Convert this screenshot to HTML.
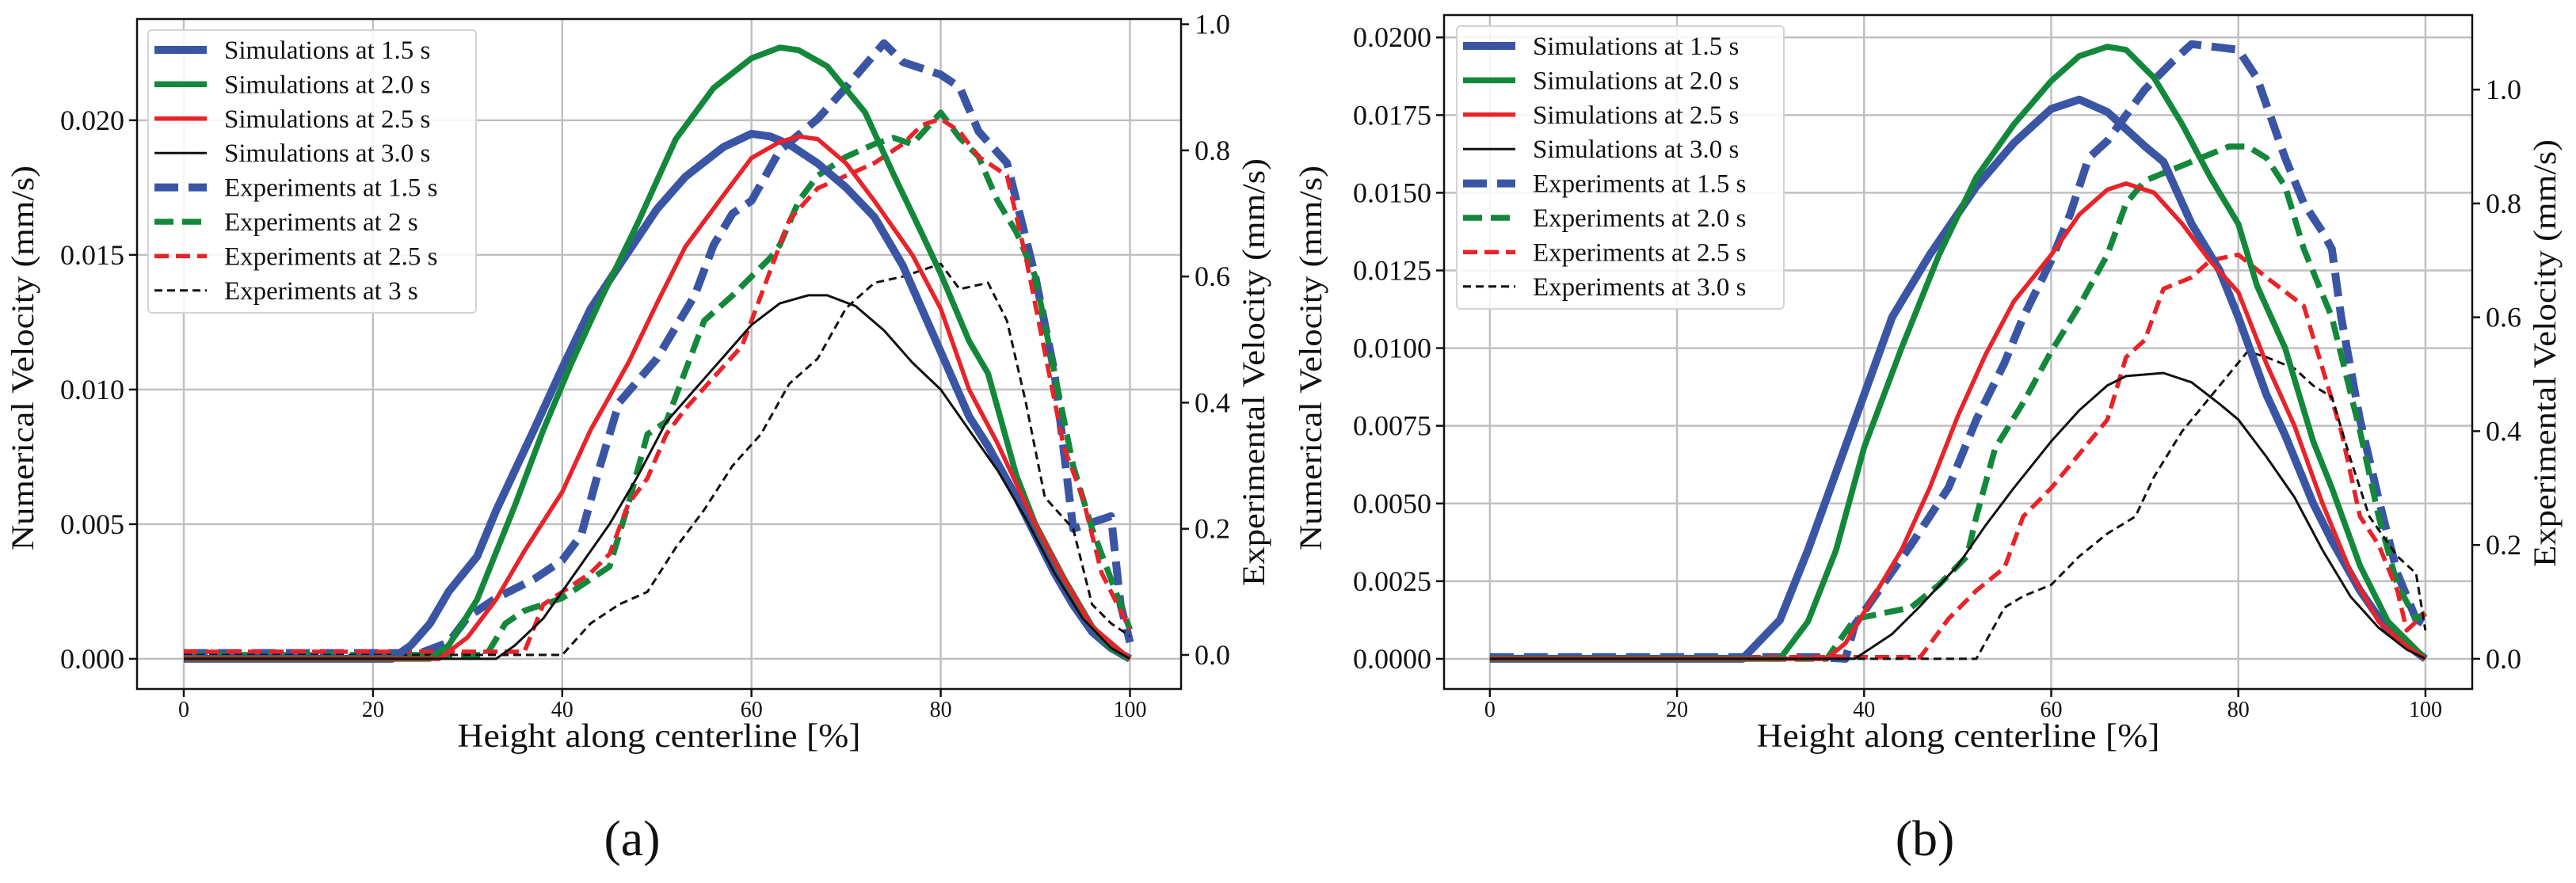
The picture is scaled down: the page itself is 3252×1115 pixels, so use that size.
<!DOCTYPE html>
<html><head><meta charset="utf-8"><style>
html,body{margin:0;padding:0;background:#fff;}
svg{display:block;}
text{font-family:"Liberation Serif","DejaVu Serif",serif;fill:#111;}
</style></head>
<body>
<svg id="chart" width="3252" height="1115" viewBox="0 0 3252 1115" xmlns="http://www.w3.org/2000/svg"></svg>
<script>
// ---------- data: panel (a) ----------
const xTicks = [0, 20, 40, 60, 80, 100];
const aLeftTicks = [0.000, 0.005, 0.010, 0.015, 0.020];
const aLeftLabels = ["0.000", "0.005", "0.010", "0.015", "0.020"];
const aRightTicks = [0.0, 0.2, 0.4, 0.6, 0.8, 1.0];
const aRightLabels = ["0.0", "0.2", "0.4", "0.6", "0.8", "1.0"];
const aSim15 = [[0,0],[22,0],[24,0.0005],[26,0.0013],[28,0.0025],[31,0.0038],[33,0.0055],[35,0.0070],[37,0.0085],[40,0.0108],[43,0.0130],[46,0.0146],[50,0.0167],[53,0.0179],[57,0.0190],[60,0.0195],[62,0.0194],[64,0.0191],[67,0.0184],[70,0.0175],[73,0.0164],[76,0.0146],[80,0.0114],[83,0.0090],[85,0.0079],[88,0.0060],[90,0.0046],[92,0.0032],[94,0.0020],[96,0.0010],[98,0.0004],[100,0]];
const aSim20 = [[0,0],[26,0],[28,0.0005],[31,0.0022],[35,0.0057],[38,0.0085],[41,0.0110],[44,0.0133],[48,0.0162],[52,0.0193],[56,0.0212],[60,0.0223],[63,0.0227],[65,0.0226],[68,0.0220],[72,0.0203],[75,0.0180],[78,0.0158],[80,0.0143],[83,0.0118],[85,0.0106],[88,0.0068],[90,0.0050],[93,0.0030],[96,0.0012],[98,0.0004],[100,0]];
const aSim25 = [[0,0],[27,0],[30,0.0008],[33,0.0022],[36,0.0040],[40,0.0062],[43,0.0085],[47,0.0110],[50,0.0132],[53,0.0153],[57,0.0172],[60,0.0186],[63,0.0192],[65,0.0194],[67,0.0193],[70,0.0184],[73,0.0170],[77,0.0150],[80,0.0130],[83,0.0100],[86,0.0080],[90,0.0050],[93,0.0030],[96,0.0012],[100,0]];
const aSim30 = [[0,0],[33,0],[35,0.0005],[38,0.0015],[41,0.0030],[45,0.0050],[48,0.0068],[51,0.0088],[54,0.0100],[57,0.0112],[60,0.0124],[63,0.0132],[66,0.0135],[68,0.0135],[71,0.0131],[74,0.0122],[77,0.0110],[80,0.0100],[83,0.0085],[86,0.0070],[89,0.0052],[92,0.0032],[95,0.0015],[98,0.0004],[100,0]];
const aExp15 = [[0,0.003],[23,0.003],[25,0.003],[28,0.02],[30,0.06],[33,0.09],[37,0.12],[40,0.15],[42,0.19],[44,0.30],[46,0.40],[50,0.47],[54,0.57],[56,0.65],[58,0.70],[60,0.72],[63,0.80],[67,0.85],[70,0.90],[74,0.97],[76,0.94],[80,0.92],[82,0.90],[84,0.83],[87,0.78],[88,0.72],[90,0.60],[92,0.45],[94,0.20],[96,0.21],[98,0.22],[99,0.08],[100,0.02]];
const aExp20 = [[0,0],[32,0],[34,0.05],[36,0.07],[40,0.09],[43,0.12],[45,0.14],[47,0.24],[49,0.35],[51,0.37],[53,0.45],[55,0.53],[58,0.57],[62,0.63],[63,0.65],[65,0.72],[67,0.76],[70,0.79],[73,0.81],[75,0.82],[77,0.81],[80,0.86],[82,0.82],[84,0.79],[86,0.72],[88,0.67],[90,0.60],[92,0.45],[94,0.30],[96,0.20],[98,0.12],[100,0.04]];
const aExp25 = [[0,0.005],[36,0.005],[38,0.08],[40,0.10],[43,0.13],[45,0.16],[47,0.24],[49,0.28],[51,0.35],[53,0.39],[56,0.44],[59,0.49],[62,0.61],[64,0.69],[67,0.74],[70,0.76],[73,0.78],[76,0.81],[78,0.84],[80,0.85],[82,0.83],[84,0.79],[87,0.76],[89,0.63],[91,0.48],[93,0.33],[95,0.25],[97,0.13],[99,0.07],[100,0.04]];
const aExp30 = [[0,0],[40,0],[43,0.05],[46,0.08],[49,0.10],[52,0.17],[55,0.23],[58,0.30],[61,0.35],[64,0.43],[67,0.47],[70,0.55],[73,0.59],[76,0.60],[78,0.61],[80,0.62],[82,0.58],[85,0.59],[87,0.53],[89,0.40],[91,0.25],[94,0.20],[96,0.08],[98,0.05],[100,0.03]];
// ---------- data: panel (b) ----------
const bLeftTicks = [0.0000, 0.0025, 0.0050, 0.0075, 0.0100, 0.0125, 0.0150, 0.0175, 0.0200];
const bLeftLabels = ["0.0000","0.0025","0.0050","0.0075","0.0100","0.0125","0.0150","0.0175","0.0200"];
const bRightTicks = [0.0, 0.2, 0.4, 0.6, 0.8, 1.0];
const bRightLabels = ["0.0", "0.2", "0.4", "0.6", "0.8", "1.0"];
const bSim15 = [[0,0],[27,0],[31,0.00125],[34,0.0035],[37,0.0060],[40,0.0085],[43,0.0110],[47,0.0130],[52,0.0152],[56,0.0166],[60,0.0177],[63,0.0180],[66,0.0176],[70,0.0165],[72,0.0160],[75,0.0140],[78,0.0125],[80,0.0110],[83,0.0085],[85,0.0072],[88,0.0050],[90,0.0038],[93,0.0022],[96,0.0009],[100,0]];
const bSim20 = [[0,0],[31,0],[34,0.0012],[37,0.0035],[40,0.0068],[44,0.0100],[48,0.0130],[52,0.0155],[56,0.0172],[60,0.0186],[63,0.0194],[66,0.0197],[68,0.0196],[71,0.0187],[74,0.0172],[77,0.0155],[80,0.0140],[82,0.0120],[85,0.0100],[88,0.0070],[90,0.0055],[93,0.0030],[96,0.0012],[100,0]];
const bSim25 = [[0,0],[36,0],[38,0.0005],[41,0.0020],[44,0.0035],[47,0.0055],[50,0.0078],[53,0.0098],[56,0.0115],[60,0.0130],[63,0.0143],[66,0.0151],[68,0.0153],[71,0.0150],[74,0.0140],[77,0.0128],[80,0.0118],[83,0.0095],[86,0.0075],[89,0.0050],[92,0.0028],[95,0.0012],[98,0.0004],[100,0]];
const bSim30 = [[0,0],[39,0],[40,0.0002],[43,0.0008],[46,0.0017],[50,0.0030],[53,0.0043],[56,0.0055],[60,0.0070],[63,0.0080],[66,0.0088],[68,0.0091],[72,0.0092],[75,0.0089],[78,0.0082],[80,0.0077],[83,0.0065],[86,0.0052],[89,0.0035],[92,0.0020],[95,0.0010],[98,0.0003],[100,0]];
const bExp15 = [[0,0.003],[35,0.003],[38,0.0],[39,0.06],[42,0.13],[45,0.20],[49,0.30],[52,0.42],[55,0.52],[57,0.60],[60,0.70],[62,0.78],[64,0.88],[66,0.91],[70,1.0],[73,1.05],[75,1.08],[80,1.07],[82,1.02],[85,0.88],[87,0.80],[89,0.75],[90,0.72],[91,0.60],[93,0.42],[95,0.28],[97,0.15],[99,0.07],[100,0.06]];
const bExp20 = [[0,0],[36,0],[39,0.07],[42,0.08],[45,0.09],[48,0.13],[51,0.18],[52,0.25],[54,0.37],[57,0.45],[60,0.54],[63,0.62],[66,0.71],[68,0.80],[70,0.84],[73,0.86],[76,0.88],[79,0.90],[81,0.90],[83,0.88],[85,0.83],[87,0.72],[90,0.60],[93,0.40],[95,0.25],[97,0.13],[99,0.07],[100,0.08]];
const bExp25 = [[0,0.003],[46,0.003],[49,0.07],[52,0.12],[55,0.16],[57,0.25],[60,0.30],[63,0.36],[66,0.42],[68,0.53],[70,0.56],[72,0.65],[75,0.67],[77,0.70],[80,0.71],[83,0.67],[87,0.62],[89,0.51],[91,0.40],[93,0.25],[95,0.20],[97,0.12],[98,0.05],[100,0.08]];
const bExp30 = [[0,0],[52,0],[55,0.09],[57,0.11],[60,0.13],[63,0.18],[66,0.22],[69,0.25],[71,0.32],[74,0.40],[77,0.46],[79,0.50],[81,0.54],[83,0.53],[86,0.51],[88,0.48],[90,0.46],[92,0.35],[94,0.25],[97,0.18],[99,0.15],[100,0.05]];

const legendA = ["Simulations at 1.5 s","Simulations at 2.0 s","Simulations at 2.5 s","Simulations at 3.0 s","Experiments at 1.5 s","Experiments at 2 s","Experiments at 2.5 s","Experiments at 3 s"];
const legendB = ["Simulations at 1.5 s","Simulations at 2.0 s","Simulations at 2.5 s","Simulations at 3.0 s","Experiments at 1.5 s","Experiments at 2.0 s","Experiments at 2.5 s","Experiments at 3.0 s"];

const NS = "http://www.w3.org/2000/svg";
const svg = document.getElementById('chart');
function mk(tag, attrs, parent) {
  const e = document.createElementNS(NS, tag);
  for (const k in attrs) e.setAttribute(k, attrs[k]);
  (parent || svg).appendChild(e);
  return e;
}
const styles = [
  {c:"#3b55a5", w:10, d:""}, {c:"#13883b", w:7.5, d:""}, {c:"#e8232a", w:5.5, d:""}, {c:"#111", w:3, d:""},
  {c:"#3b55a5", w:10, d:"30 13"}, {c:"#13883b", w:7.5, d:"24 11"}, {c:"#e8232a", w:5.5, d:"18 9"}, {c:"#111", w:3, d:"10 6"}
];

function panel(P) {
  const g = mk('g', {});
  
  
  const X = v => P.x0 + (v - P.xmin) / (P.xmax - P.xmin) * (P.x1 - P.x0);
  const YL = v => P.y1 - (v - P.lmin) / (P.lmax - P.lmin) * (P.y1 - P.y0);
  const YR = v => P.y1 - (v - P.rmin) / (P.rmax - P.rmin) * (P.y1 - P.y0);
  xTicks.forEach(t => {
    const l = mk('line', {x1:X(t), x2:X(t), y1:P.y0, y2:P.y1, stroke:"#c0c0c0", "stroke-width":2.5}, g);
    
    
  });
  P.lt.forEach(t => {
    const l = mk('line', {x1:P.x0, x2:P.x1, y1:YL(t), y2:YL(t), stroke:"#c0c0c0", "stroke-width":2.5}, g);
    
    
  });
  const series = [P.s15, P.s20, P.s25, P.s30, P.e15, P.e20, P.e25, P.e30];
  const names = ['sim-1-5s','sim-2-0s','sim-2-5s','sim-3-0s','exp-1-5s','exp-2-0s','exp-2-5s','exp-3-0s'];
  const drawOrder = [4,5,6,7,0,1,2,3];
  drawOrder.forEach(i => {
    const Y = i < 4 ? YL : YR;
    const d = series[i].map((p, j) => (j ? 'L' : 'M') + X(p[0]).toFixed(1) + ' ' + Y(p[1]).toFixed(1)).join(' ');
    const s = styles[i];
    const path = mk('path', {d:d, fill:"none", stroke:s.c, "stroke-width":s.w, "stroke-linejoin":"round", "stroke-dasharray":s.d}, g);
    
    
  });
  const fr = mk('rect', {x:P.x0, y:P.y0, width:P.x1-P.x0, height:P.y1-P.y0, fill:"none", stroke:"#111", "stroke-width":2.5}, g);
  
  
  xTicks.forEach(t => {
    mk('line', {x1:X(t), x2:X(t), y1:P.y1, y2:P.y1+10, stroke:"#111", "stroke-width":2.5}, g);
    const tx = mk('text', {x:X(t), y:P.y1+35, "font-size":28, "text-anchor":"middle"}, g);
    tx.textContent = t;
    
    
  });
  P.lt.forEach((t, i) => {
    mk('line', {x1:P.x0-10, x2:P.x0, y1:YL(t), y2:YL(t), stroke:"#111", "stroke-width":2.5}, g);
    const tx = mk('text', {x:P.x0-16, y:YL(t)+12, "font-size":36, "text-anchor":"end"}, g);
    tx.textContent = P.ll[i];
    
    
  });
  P.rt.forEach((t, i) => {
    mk('line', {x1:P.x1, x2:P.x1+10, y1:YR(t), y2:YR(t), stroke:"#111", "stroke-width":2.5}, g);
    const tx = mk('text', {x:P.x1+17, y:YR(t)+12, "font-size":36}, g);
    tx.textContent = P.rl[i];
    
    
  });
  const xl = mk('text', {x:(P.x0+P.x1)/2, y:P.y1+73, "font-size":42, "text-anchor":"middle", textLength:509, lengthAdjust:"spacingAndGlyphs"}, g);
  xl.textContent = "Height along centerline [%]";
  
  
  const yl = mk('text', {x:0, y:0, "font-size":40, "text-anchor":"middle", textLength:486, lengthAdjust:"spacingAndGlyphs", transform:`translate(${P.ylx},${P.yly}) rotate(-90)`}, g);
  yl.textContent = "Numerical Velocity (mm/s)";
  
  
  const yr = mk('text', {x:0, y:0, "font-size":40, "text-anchor":"middle", textLength:540, lengthAdjust:"spacingAndGlyphs", transform:`translate(${P.yrx},${P.yry}) rotate(-90)`}, g);
  yr.textContent = "Experimental Velocity (mm/s)";
  
  
  const lg = mk('g', {}, g);
  
  
  mk('rect', {x:P.lx, y:P.ly, width:P.lw, height:P.lh, rx:5, fill:"#fff", "fill-opacity":0.85, stroke:"#d4d4d4", "stroke-width":2}, lg);
  P.legend.forEach((lab, i) => {
    const yy = P.ly + 25 + i * 43.4;
    const s = styles[i];
    mk('line', {x1:P.lx+8, x2:P.lx+74, y1:yy, y2:yy, stroke:s.c, "stroke-width":s.w, "stroke-dasharray":s.d}, lg);
    const tx = mk('text', {x:P.lx+96, y:yy+11, "font-size":33}, lg);
    tx.textContent = lab;
    
    
  });
  const cap = mk('text', {x:P.capx, y:1080, "font-size":64, "text-anchor":"middle"}, g);
  cap.textContent = P.cap;
  
  
}

panel({name:'panel-a', x0:173, x1:1491, y0:24, y1:870, xmin:-4.94, xmax:105.4,
  lmin:-0.00112, lmax:0.02376, rmin:-0.054, rmax:1.0083,
  lt:aLeftTicks, ll:aLeftLabels, rt:aRightTicks, rl:aRightLabels,
  s15:aSim15, s20:aSim20, s25:aSim25, s30:aSim30, e15:aExp15, e20:aExp20, e25:aExp25, e30:aExp30,
  ylx:42, yly:452, yrx:1596, yry:470, lx:187, ly:38, lw:414, lh:357, legend:legendA, cap:"(a)", capx:798});
panel({name:'panel-b', x0:1823, x1:3121, y0:19, y1:870, xmin:-4.9, xmax:105.0,
  lmin:-0.00097, lmax:0.02072, rmin:-0.053, rmax:1.131,
  lt:bLeftTicks, ll:bLeftLabels, rt:bRightTicks, rl:bRightLabels,
  s15:bSim15, s20:bSim20, s25:bSim25, s30:bSim30, e15:bExp15, e20:bExp20, e25:bExp25, e30:bExp30,
  ylx:1668, yly:452, yrx:3226, yry:446, lx:1839, ly:33, lw:413, lh:357, legend:legendB, cap:"(b)", capx:2430});
</script>
</body></html>
